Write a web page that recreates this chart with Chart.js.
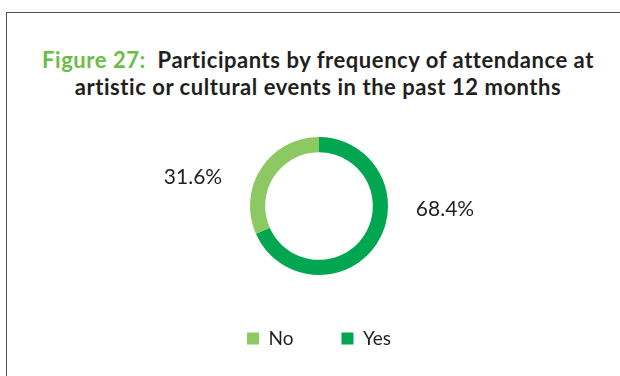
<!DOCTYPE html>
<html>
<head>
<meta charset="utf-8">
<script src="https://cdn.jsdelivr.net/npm/chart.js@4/dist/chart.umd.min.js"></script>
<style>
  html, body { margin: 0; padding: 0; background: #fff; }
  #wrap { position: relative; width: 620px; height: 376px; overflow: hidden; }
  #frame {
    position: absolute; left: 6px; top: 12px; width: 640px; height: 400px;
    border: 1.5px solid #505050; box-sizing: border-box;
  }
  #title {
    position: absolute; left: 0; top: 46px; width: 636px; text-align: center;
    font-family: Lato, sans-serif; font-weight: bold; font-size: 22px; line-height: 27px;
    letter-spacing: 0.55px; color: #231f20;
  }
  #title .fig { color: #6abd45; }
  canvas { position: absolute; left: 0; top: 0; }
</style>
</head>
<body>
<div id="wrap">
  <div id="frame"></div>
  <div id="title"><span class="fig">Figure 27:</span>&nbsp; Participants by frequency of attendance at<br>artistic or cultural events in the past 12 months</div>
  <canvas id="chart" width="620" height="376"></canvas>
</div>
<script>
// data (drawn clockwise from the top: Yes then No)
const categories = ['Yes', 'No'];
const shares = [68.4, 31.6];
const sliceColors = ['#00a650', '#8dc963'];

const pctLabels = {
  id: 'pctLabels',
  afterDatasetsDraw(chart) {
    const ctx = chart.ctx;
    const meta = chart.getDatasetMeta(0);
    ctx.save();
    ctx.font = '21px Lato, sans-serif';
    ctx.fillStyle = '#231f20';
    ctx.textAlign = 'center';
    ctx.textBaseline = 'middle';
    meta.data.forEach((arc, i) => {
      const p = arc.getProps(['x', 'y', 'startAngle', 'endAngle', 'outerRadius'], true);
      const mid = (p.startAngle + p.endAngle) / 2;
      const x = p.x + Math.sign(Math.cos(mid)) * (p.outerRadius + 57);
      const y = p.y + Math.sin(mid) * p.outerRadius * 0.42 - 13;
      ctx.fillText(shares[i].toFixed(1) + '%', x, y);
    });
    ctx.restore();
  }
};

new Chart(document.getElementById('chart'), {
  type: 'doughnut',
  data: {
    labels: categories,
    datasets: [{
      data: shares,
      backgroundColor: sliceColors,
      borderWidth: 0
    }]
  },
  options: {
    responsive: false,
    animation: false,
    radius: 69,
    cutout: '78%',
    layout: { padding: { top: 131, left: 18, right: 0, bottom: 18 } },
    plugins: {
      tooltip: { enabled: false },
      legend: {
        position: 'bottom',
        reverse: true,
        labels: {
          boxWidth: 12,
          boxHeight: 12,
          padding: 48,
          color: '#231f20',
          font: { family: 'Lato, sans-serif', size: 19 }
        }
      }
    }
  },
  plugins: [pctLabels]
});
</script>
</body>
</html>
